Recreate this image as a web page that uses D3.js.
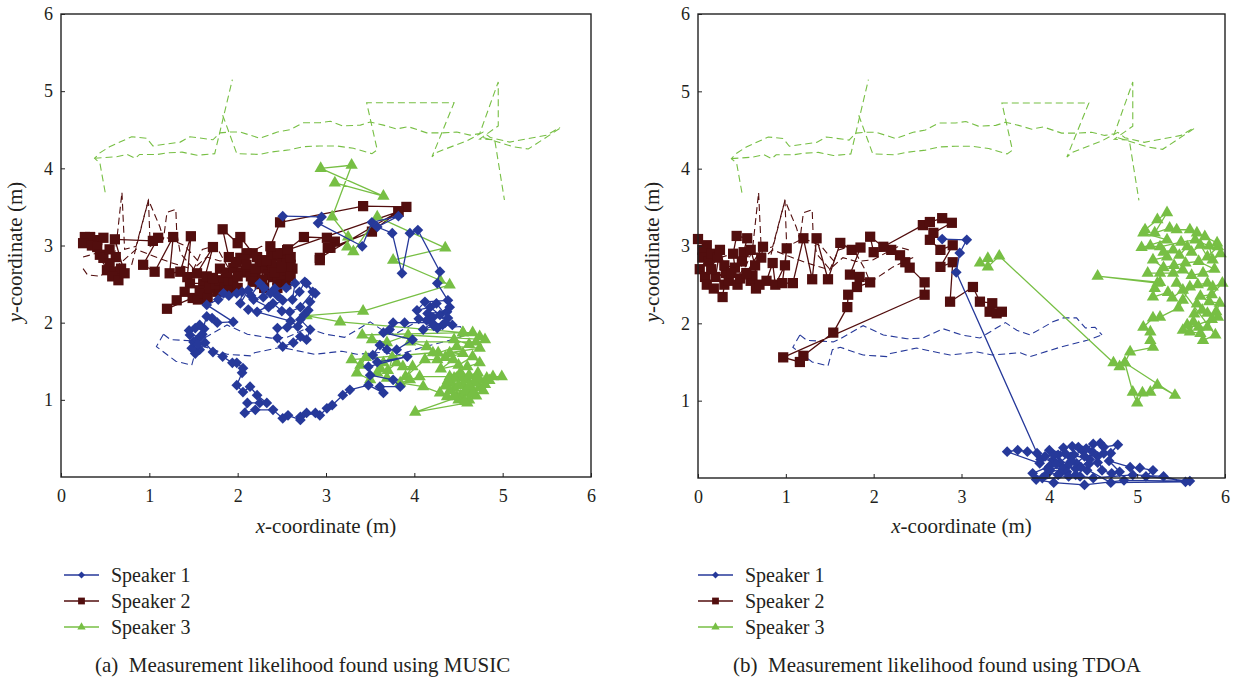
<!DOCTYPE html>
<html><head><meta charset="utf-8">
<script src="https://cdn.jsdelivr.net/npm/d3@7"></script>
<style>
html,body{margin:0;padding:0;background:#fff;}
svg{display:block;}
svg text{font-family:"Liberation Serif","DejaVu Serif","Noto Serif","Times New Roman",serif;}
</style></head>
<body><svg id="c" width="1241" height="679"></svg>
<script>
// ---------------- DATA ----------------
const xTicks = [0,1,2,3,4,5,6];
const yTicks = [1,2,3,4,5,6];
const seriesNames = ["Speaker 1","Speaker 2","Speaker 3"];
const captions = ["(a)  Measurement likelihood found using MUSIC","(b)  Measurement likelihood found using TDOA"];

// ground-truth paths (dashed), shared by both panels
const truthS1 = [
 [[1.16,1.85],[1.24,1.78],[1.54,1.76],[1.62,1.80],[1.88,1.97],[2.11,1.85],[2.38,1.80],[2.56,1.81],[2.79,1.93],[3.00,1.85],[3.21,1.81],[3.50,2.01],[3.63,1.91],[3.78,1.85],[4.04,2.02],[4.16,2.07],[4.31,2.07],[4.41,1.94],[4.52,1.95],[4.60,1.85]],
 [[1.16,1.85],[1.08,1.69],[1.30,1.50],[1.48,1.45],[1.53,1.66],[1.62,1.69],[1.88,1.59],[2.15,1.57],[2.19,1.61],[2.49,1.68],[2.87,1.59],[3.18,1.63],[3.35,1.59],[3.67,1.62],[3.78,1.57],[4.12,1.69],[4.43,1.78],[4.60,1.85]]
];
const truthS2 = [
 [[0.25,2.70],[0.30,2.62],[0.45,2.60],[0.55,2.75],[0.62,2.95],[0.69,3.69],[0.72,2.95],[0.85,2.99],[0.99,3.59],[1.12,3.24],[1.16,3.08],[1.20,3.43],[1.30,3.47],[1.31,3.17],[1.35,2.90],[1.50,2.70],[1.65,2.85],[1.80,2.80],[1.99,2.82],[2.27,2.99],[2.40,2.95]],
 [[0.25,2.85],[0.40,2.90],[0.55,2.65],[0.70,2.80],[0.85,2.95],[1.05,2.86],[1.24,2.78],[1.50,2.69],[1.60,2.95],[1.75,3.00],[1.90,2.70],[1.96,2.53],[2.22,2.73],[2.35,2.80],[2.45,2.85]],
 [[0.80,2.75],[0.99,3.59],[1.01,2.99],[1.20,3.10],[1.40,3.00],[1.55,2.80]]
];
const truthS3 = [
 [[0.50,3.69],[0.44,4.07],[0.38,4.13],[0.44,4.20],[0.55,4.28],[0.80,4.41],[0.97,4.39],[1.04,4.29],[1.35,4.34],[1.46,4.41],[1.72,4.37],[1.80,4.46],[1.91,4.47],[2.03,4.47],[2.25,4.39],[2.45,4.47],[2.59,4.50],[2.74,4.59],[2.93,4.59],[3.05,4.61],[3.19,4.55],[3.39,4.56],[3.50,4.60],[3.65,4.56],[3.80,4.51],[3.93,4.54],[4.14,4.46],[4.32,4.46],[4.48,4.47],[4.63,4.43],[4.74,4.45],[4.95,5.12],[4.95,4.55],[4.74,4.38],[4.91,4.37],[5.02,3.59]],
 [[0.38,4.13],[0.63,4.15],[0.75,4.18],[0.84,4.13],[0.89,4.18],[1.09,4.18],[1.20,4.20],[1.37,4.21],[1.54,4.17],[1.74,4.19],[1.94,5.15]],
 [[1.83,4.69],[1.99,4.19],[2.25,4.18],[2.37,4.21],[2.59,4.24],[2.74,4.28],[2.93,4.29],[3.12,4.29],[3.31,4.26],[3.52,4.19],[3.58,4.24],[3.46,4.85],[4.45,4.85],[4.20,4.15],[4.26,4.21],[4.60,4.36],[4.78,4.47],[4.86,4.40],[5.08,4.34],[5.50,4.43],[5.65,4.53]],
 [[4.78,4.40],[5.12,4.28],[5.29,4.25],[5.65,4.52]]
];

// measurements, MUSIC (panel a)
const musicS1 = [[2.51,3.38],[2.95,3.37],[2.91,3.29],[3.41,2.99],[3.52,3.30],[3.82,3.38],[3.58,3.24],[3.75,3.16],[3.86,2.64],[3.95,3.16],[4.04,3.20],[4.29,2.66],[4.26,2.51],[4.38,2.29],[4.12,2.27],[4.03,2.16],[4.18,2.20],[4.29,2.10],[4.37,2.14],[4.15,2.12],[4.25,2.25],[4.38,2.06],[4.21,2.07],[4.40,2.20],[4.14,2.03],[4.05,2.05],[4.32,1.97],[4.43,1.97],[4.35,2.00],[4.26,1.93],[4.22,1.96],[4.10,1.91],[4.20,2.00],[3.89,2.00],[3.76,2.00],[3.72,1.91],[3.65,1.87],[3.98,1.78],[3.80,1.65],[3.69,1.65],[3.61,1.71],[3.53,1.58],[3.58,1.49],[3.92,1.56],[3.48,1.43],[3.50,1.32],[3.76,1.26],[3.84,1.17],[3.61,1.17],[3.65,1.09],[3.48,1.19],[3.27,1.13],[3.19,1.06],[3.07,0.93],[3.01,0.89],[2.93,0.80],[2.78,0.83],[2.88,0.83],[2.71,0.78],[2.71,0.74],[2.57,0.80],[2.51,0.76],[2.40,0.87],[2.20,0.87],[2.08,0.83],[2.11,0.96],[2.25,0.96],[2.33,0.96],[2.22,1.06],[2.14,1.17],[2.06,1.10],[1.99,1.19],[2.05,1.35],[2.06,1.41],[1.99,1.48],[1.94,1.48],[1.83,1.56],[1.72,1.62],[1.63,1.74],[1.57,1.65],[1.52,1.60],[1.48,1.67],[1.50,1.75],[1.54,1.78],[1.58,1.82],[1.46,1.84],[1.45,1.90],[1.52,1.93],[1.62,1.92],[1.57,1.97],[1.60,1.85],[1.55,1.72],[1.65,2.08],[1.71,2.06],[1.77,2.00],[1.95,2.01],[1.65,2.23],[1.78,2.30],[1.84,2.38],[1.90,2.35],[1.99,2.38],[2.05,2.40],[2.03,2.25],[2.12,2.42],[2.15,2.35],[2.25,2.51],[2.29,2.33],[2.30,2.45],[2.37,2.38],[2.18,2.30],[2.35,2.20],[2.51,2.29],[2.45,2.35],[2.42,2.44],[2.55,2.45],[2.65,2.51],[2.62,2.30],[2.70,2.40],[2.76,2.53],[2.85,2.40],[2.71,2.20],[2.59,2.14],[2.50,2.15],[2.40,2.25],[2.22,2.14],[2.12,2.17],[2.60,2.02],[2.68,1.95],[2.56,1.94],[2.45,1.93],[2.45,1.80],[2.51,1.69],[2.63,1.74],[2.71,1.82],[2.78,1.78],[2.82,1.91],[2.71,2.04],[2.75,2.10],[2.80,2.16],[2.82,2.27],[2.88,2.38],[2.78,2.51]];
const musicS2 = [[0.27,3.11],[0.33,3.11],[0.41,3.07],[0.48,3.10],[0.25,3.03],[0.35,3.00],[0.41,2.98],[0.44,2.88],[0.48,2.84],[0.55,2.95],[0.62,2.85],[0.55,2.77],[0.52,2.68],[0.61,2.66],[0.68,2.70],[0.58,2.60],[0.65,2.55],[0.72,2.64],[0.61,3.08],[1.04,3.06],[1.10,3.10],[0.93,2.75],[1.06,2.66],[1.27,3.11],[1.23,2.64],[1.35,2.66],[1.47,3.12],[1.43,2.59],[1.54,2.64],[1.72,2.98],[1.61,2.51],[1.46,2.51],[1.40,2.40],[1.31,2.29],[1.20,2.18],[1.49,2.32],[1.55,2.30],[1.57,2.42],[1.62,2.38],[1.66,2.32],[1.77,2.40],[1.68,2.45],[1.75,2.50],[1.65,2.60],[1.80,2.55],[1.72,2.58],[1.80,2.70],[1.85,2.45],[1.90,2.55],[1.95,2.51],[1.91,2.42],[2.00,2.45],[1.88,2.65],[1.95,2.71],[2.05,2.65],[2.03,2.84],[1.90,2.85],[1.83,3.21],[2.00,3.03],[2.03,3.11],[2.17,2.90],[2.10,2.90],[2.08,2.82],[1.98,2.78],[2.25,2.72],[2.11,2.68],[2.15,2.60],[2.00,2.60],[2.10,2.75],[2.20,2.62],[2.25,2.50],[2.30,2.70],[2.20,2.70],[2.22,2.85],[2.38,2.78],[2.28,2.80],[2.17,2.53],[2.30,2.45],[2.40,2.59],[2.35,2.62],[2.28,2.56],[2.45,2.55],[2.45,2.45],[2.55,2.50],[2.50,2.62],[2.40,2.72],[2.33,2.81],[2.38,2.88],[2.50,2.80],[2.55,2.78],[2.52,2.90],[2.62,2.70],[2.60,2.75],[2.42,2.65],[2.45,2.90],[2.37,2.99],[2.48,3.30],[3.42,3.51],[3.91,3.50],[3.82,3.44],[2.56,2.94],[2.56,2.68],[2.50,2.72],[2.60,2.85],[2.60,2.60],[2.57,2.95],[2.75,3.11],[3.01,3.10],[3.10,3.05],[3.05,2.97],[3.52,3.18],[3.82,3.44],[2.93,2.84],[2.93,2.81],[3.02,2.97]];
const musicS3 = [[3.10,3.81],[3.65,3.64],[2.94,4.00],[3.29,4.04],[3.07,3.37],[3.25,3.11],[3.24,2.98],[3.31,2.92],[3.58,3.37],[4.35,2.97],[3.76,2.81],[4.29,2.55],[4.40,2.49],[3.42,2.15],[2.78,2.09],[3.16,2.01],[4.55,1.87],[3.41,1.84],[3.52,1.78],[3.69,1.74],[3.93,1.84],[4.80,1.78],[4.74,1.82],[4.55,1.87],[4.66,1.87],[4.45,1.78],[4.62,1.72],[4.70,1.75],[3.95,1.75],[4.14,1.69],[4.27,1.61],[4.48,1.69],[4.74,1.67],[4.40,1.61],[4.55,1.60],[4.35,1.55],[4.21,1.61],[3.29,1.52],[3.39,1.45],[3.45,1.55],[3.35,1.35],[3.50,1.26],[3.58,1.35],[3.62,1.40],[3.65,1.48],[3.75,1.55],[3.69,1.28],[3.70,1.38],[3.80,1.48],[3.87,1.43],[3.98,1.43],[3.90,1.30],[4.12,1.52],[4.26,1.52],[4.44,1.52],[4.30,1.40],[4.50,1.45],[4.66,1.56],[4.74,1.48],[4.60,1.43],[4.40,1.30],[4.06,1.30],[3.95,1.26],[3.84,1.22],[4.10,1.17],[4.29,1.09],[4.37,1.04],[4.48,1.04],[4.60,0.96],[4.01,0.84],[4.63,1.09],[4.74,1.17],[4.74,1.26],[4.89,1.30],[4.99,1.30],[4.82,1.28],[4.48,1.28],[4.60,1.26],[4.45,1.15],[4.55,1.20],[4.65,1.15],[4.52,1.05],[4.70,1.05],[4.58,1.12],[4.42,1.22],[4.68,1.22],[4.50,1.00],[4.62,1.00],[4.40,1.12],[4.78,1.12],[4.55,1.30],[4.35,1.18],[4.45,1.28],[4.52,1.35],[4.62,1.32],[4.72,1.35],[4.80,1.20],[4.66,1.08],[4.57,0.98],[4.45,1.05],[4.38,1.25],[4.50,1.18],[4.62,1.18],[4.70,1.28],[4.85,1.25]];

// measurements, TDOA (panel b)
const tdoaS1 = [[2.78,3.09],[3.06,3.08],[2.98,2.91],[2.94,2.66],[3.86,0.32],[3.75,0.34],[3.64,0.36],[3.52,0.34],[3.89,0.19],[3.90,0.24],[4.04,0.23],[4.16,0.39],[4.24,0.27],[4.10,0.30],[4.05,0.30],[3.95,0.28],[4.20,0.15],[4.12,0.20],[4.33,0.40],[4.26,0.41],[4.28,0.30],[4.38,0.35],[4.49,0.34],[4.42,0.38],[4.50,0.44],[4.58,0.45],[4.62,0.40],[4.78,0.43],[4.70,0.32],[4.62,0.32],[4.40,0.28],[4.31,0.19],[4.15,0.12],[4.20,0.08],[4.01,0.10],[4.00,0.15],[3.81,0.06],[3.92,0.00],[3.97,0.05],[4.12,0.06],[4.10,0.04],[4.30,0.04],[4.30,0.12],[4.43,0.10],[4.45,0.18],[4.55,0.20],[4.55,0.28],[4.60,0.10],[4.71,0.06],[4.80,0.08],[4.68,0.22],[4.92,0.14],[5.03,0.13],[5.18,0.10],[5.10,0.02],[5.60,-0.04],[4.85,-0.03],[4.40,-0.09],[4.05,-0.06],[3.85,-0.02],[4.22,0.02],[4.35,0.02],[4.50,0.00],[4.95,0.04],[5.30,0.02],[5.55,-0.05],[4.70,-0.06],[4.25,0.22],[4.08,0.18],[3.98,0.12],[4.36,0.14],[4.46,0.24],[4.18,0.32],[4.00,0.36]];
const tdoaS2 = [[0.00,3.09],[0.10,3.01],[0.05,2.95],[0.05,2.85],[0.12,2.80],[0.02,2.70],[0.15,2.90],[0.22,2.85],[0.08,2.60],[0.10,2.50],[0.18,2.45],[0.28,2.34],[0.30,2.50],[0.20,2.60],[0.25,2.95],[0.32,2.65],[0.35,2.55],[0.15,2.70],[0.45,2.50],[0.48,2.58],[0.30,2.75],[0.42,2.72],[0.40,2.90],[0.44,3.13],[0.56,3.10],[0.52,2.92],[0.50,2.80],[0.38,2.65],[0.60,2.55],[0.62,2.62],[0.55,2.65],[0.74,2.99],[0.72,2.85],[0.60,2.95],[0.65,2.75],[0.66,2.45],[0.70,2.50],[0.78,2.55],[0.85,2.78],[0.88,2.50],[0.99,2.75],[1.01,2.97],[0.96,2.52],[1.08,2.52],[1.20,3.10],[1.30,2.57],[1.35,3.10],[1.48,2.57],[1.62,3.04],[1.75,2.95],[1.85,2.98],[1.73,2.63],[1.84,2.60],[1.96,2.53],[1.81,2.47],[1.71,2.37],[1.70,2.21],[1.54,1.88],[1.20,1.58],[1.16,1.50],[0.97,1.56],[2.58,2.37],[2.58,2.53],[2.41,2.72],[2.36,2.79],[2.30,2.88],[2.20,2.95],[2.00,2.92],[1.96,3.12],[2.11,2.99],[2.56,3.27],[2.64,3.31],[2.78,3.36],[2.89,3.30],[2.68,3.17],[2.64,3.08],[2.76,2.95],[2.90,3.01],[2.76,2.73],[2.90,2.79],[2.87,2.28],[3.13,2.47],[3.21,2.28],[3.35,2.26],[3.32,2.15],[3.40,2.13],[3.46,2.15]];
const tdoaS3 = [[3.21,2.78],[3.30,2.84],[3.30,2.73],[3.43,2.87],[4.73,1.49],[4.80,1.44],[4.86,1.49],[5.43,1.07],[5.23,1.20],[5.15,1.11],[5.06,1.10],[5.00,0.97],[4.95,1.11],[4.86,1.49],[4.92,1.63],[5.18,1.69],[5.15,1.78],[5.15,1.89],[5.07,1.95],[5.18,2.07],[5.26,2.08],[5.47,2.20],[5.52,2.30],[5.60,2.47],[5.69,2.50],[5.80,2.52],[5.86,2.47],[5.97,2.52],[5.85,2.37],[5.72,2.35],[5.82,2.28],[5.94,2.26],[5.90,2.15],[5.92,2.08],[5.80,2.13],[5.68,2.25],[5.74,2.17],[5.65,2.12],[5.64,2.02],[5.57,1.98],[5.70,1.95],[5.80,1.95],[5.85,2.05],[5.52,1.91],[5.60,1.89],[5.72,1.87],[5.75,1.78],[5.89,1.85],[5.45,2.52],[5.52,2.43],[5.40,2.33],[5.35,2.40],[5.18,2.34],[5.20,2.45],[5.23,2.52],[4.55,2.61],[5.26,2.53],[5.26,2.65],[5.12,2.65],[5.41,2.65],[5.52,2.69],[5.62,2.62],[5.75,2.65],[5.88,2.70],[5.70,2.80],[5.55,2.78],[5.42,2.75],[5.30,2.72],[5.18,2.82],[5.34,2.86],[5.30,2.92],[5.41,2.95],[5.48,2.88],[5.57,2.99],[5.62,2.92],[5.72,3.01],[5.80,2.86],[5.92,2.99],[5.95,2.90],[5.86,2.82],[5.82,3.00],[5.66,3.08],[5.50,3.05],[5.26,2.99],[5.15,3.00],[5.05,2.98],[5.34,3.08],[5.07,3.17],[5.09,3.21],[5.23,3.34],[5.34,3.43],[5.20,3.17],[5.37,3.23],[5.45,3.21],[5.60,3.21],[5.68,3.17],[5.77,3.12],[5.91,3.04]];

// ---------------- STYLE / LAYOUT ----------------
const colors = ["#26399a","#520e0e","#77bf44"];
const textColor = "#231f20";
const panels = [
  {left:61, top:14, w:530, h:463, titleX:22, meas:[musicS1,musicS2,musicS3], legX:64, cap:captions[0], capX:95},
  {left:698, top:14, w:527, h:464, titleX:659, meas:[tdoaS1,tdoaS2,tdoaS3], legX:698, cap:captions[1], capX:733}
];
const truths = [truthS1, truthS2, truthS3];
const symTypes = [d3.symbolSquare, d3.symbolSquare, d3.symbolTriangle];
const symSizes = [58, 105, 66];
const legSizes = [24, 46, 30];
const symRot = [45, 0, 0];
const drawOrder = [1, 2, 0];
const fontStack = "'Liberation Serif','DejaVu Serif','Noto Serif','Times New Roman',serif";

const svg = d3.select("#c");

panels.forEach(p => {
  const x = d3.scaleLinear().domain([0,6]).range([p.left, p.left + p.w]);
  const y = d3.scaleLinear().domain([0,6]).range([p.top + p.h, p.top]);
  const g = svg.append("g");

  // ground truth dashed
  truths.forEach((paths, si) => {
    const line = d3.line().x(d => x(d[0])).y(d => y(d[1]));
    g.selectAll(null).data(paths).enter().append("path")
      .attr("d", line).attr("fill","none")
      .attr("stroke", colors[si]).attr("stroke-width", 1.1)
      .attr("stroke-dasharray", "7,4");
  });

  // measurements
  drawOrder.forEach(si => {
    const data = p.meas[si];
    const line = d3.line().x(d => x(d[0])).y(d => y(d[1]));
    g.append("path").datum(data).attr("d", line).attr("fill","none")
      .attr("stroke", colors[si]).attr("stroke-width", 1.3).attr("stroke-linejoin","round");
    const sym = d3.symbol().type(symTypes[si]).size(symSizes[si]);
    g.selectAll(null).data(data).enter().append("path")
      .attr("d", sym)
      .attr("transform", d => `translate(${x(d[0])},${y(d[1])}) rotate(${symRot[si]})`)
      .attr("fill", colors[si]);
  });

  // frame
  svg.append("rect").attr("x", p.left).attr("y", p.top).attr("width", p.w).attr("height", p.h)
    .attr("fill","none").attr("stroke","#222").attr("stroke-width",1.4);

  // axes
  const xa = svg.append("g").attr("transform", `translate(0,${p.top + p.h})`)
    .call(d3.axisBottom(x).tickValues(xTicks).tickSize(-4).tickPadding(12).tickFormat(d3.format("d")));
  const ya = svg.append("g").attr("transform", `translate(${p.left},0)`)
    .call(d3.axisLeft(y).tickValues(yTicks).tickSize(-4).tickPadding(8).tickFormat(d3.format("d")));
  [xa, ya].forEach(a => {
    a.attr("font-family", null);
    a.select(".domain").remove();
    a.selectAll(".tick line").attr("stroke","#222").attr("stroke-width",1);
    a.selectAll(".tick text").style("font-family", fontStack).attr("font-size",18).attr("fill",textColor);
  });

  // axis titles
  const xt = svg.append("text").attr("x", p.left + p.w/2).attr("y", 533)
    .attr("text-anchor","middle").attr("font-size",21).attr("fill",textColor);
  xt.append("tspan").attr("font-style","italic").text("x");
  xt.append("tspan").text("-coordinate (m)");
  const yt = svg.append("text").attr("transform", `translate(${p.titleX},252) rotate(-90)`)
    .attr("text-anchor","middle").attr("font-size",21).attr("fill",textColor);
  yt.append("tspan").attr("font-style","italic").text("y");
  yt.append("tspan").text("-coordinate (m)");

  // legend
  const legY = [575, 601, 627];
  seriesNames.forEach((name, si) => {
    const lg = svg.append("g");
    lg.append("line").attr("x1", p.legX).attr("x2", p.legX + 35).attr("y1", legY[si]).attr("y2", legY[si])
      .attr("stroke", colors[si]).attr("stroke-width", 1.3);
    lg.append("path").attr("d", d3.symbol().type(symTypes[si]).size(legSizes[si]))
      .attr("transform", `translate(${p.legX + 17.5},${legY[si]}) rotate(${symRot[si]})`)
      .attr("fill", colors[si]);
    lg.append("text").attr("x", p.legX + 47).attr("y", legY[si] + 6.5)
      .attr("font-size", 20).attr("fill", textColor).text(name);
  });

  // caption
  svg.append("text").attr("x", p.capX).attr("y", 672).attr("font-size", 21)
    .attr("fill", textColor).style("white-space","pre").text(p.cap);
});
</script>
</body></html>
